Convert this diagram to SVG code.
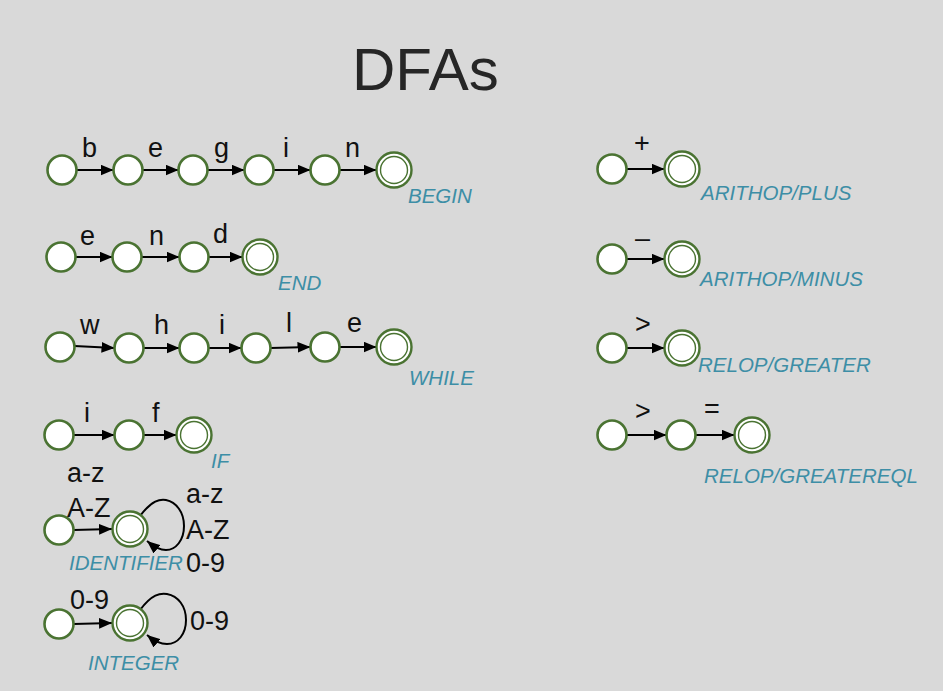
<svg xmlns="http://www.w3.org/2000/svg" width="943" height="691" viewBox="0 0 943 691">
<style>
.s{fill:#fff;stroke:#4a7332;stroke-width:2.6}
.fo{fill:#fff;stroke:#4a7332;stroke-width:2.4}
.fi{fill:#fff;stroke:#4a7332;stroke-width:1.4}
.e{stroke:#000;stroke-width:2;fill:none;marker-end:url(#ah)}
.l{font-family:"Liberation Sans",Arial,sans-serif;font-size:27px;fill:#111}
.n{font-family:"Liberation Sans",Arial,sans-serif;font-size:20.5px;font-style:italic;fill:#3d8ea6}
.t{font-family:"Liberation Sans",Arial,sans-serif;font-size:60px;fill:#262626}
</style>
<defs>
<marker id="ah" markerUnits="userSpaceOnUse" markerWidth="13" markerHeight="11" refX="12" refY="5" orient="auto" viewBox="0 0 12 10">
<path d="M0,0 L12,5 L0,10 Z" fill="#000"/>
</marker>
<g id="st"><circle r="14.5" class="s"/></g>
<g id="fs"><circle r="17.5" class="fo"/><circle r="13.5" class="fi"/></g>
</defs>
<rect width="943" height="691" fill="#d9d9d9"/>
<text class="t" x="352" y="90">DFAs</text>

<g id="connectors">
<line class="e" x1="76.5" y1="170" x2="113.5" y2="170"/>
<line class="e" x1="142.5" y1="170" x2="178.5" y2="170"/>
<line class="e" x1="207.5" y1="170" x2="244.5" y2="170"/>
<line class="e" x1="273.5" y1="170" x2="310.5" y2="170"/>
<line class="e" x1="339.5" y1="170" x2="376.5" y2="170"/>

<line class="e" x1="75.5" y1="257" x2="112.5" y2="257"/>
<line class="e" x1="141.5" y1="257" x2="179.5" y2="257"/>
<line class="e" x1="208.5" y1="257" x2="242.5" y2="257"/>

<line class="e" x1="74.5" y1="346" x2="114.5" y2="348"/>
<line class="e" x1="143.5" y1="348" x2="179.5" y2="348"/>
<line class="e" x1="208.5" y1="348" x2="241.5" y2="348"/>
<line class="e" x1="270.5" y1="348" x2="310.5" y2="347"/>
<line class="e" x1="339.5" y1="347" x2="376.5" y2="347"/>

<line class="e" x1="73.5" y1="435" x2="114.5" y2="435"/>
<line class="e" x1="143.5" y1="435" x2="176.5" y2="435"/>

<line class="e" x1="73.5" y1="530" x2="112" y2="529"/>
<path class="e" d="M140,516 C152,500 160,499 166,500 C176,502 184,512 184,526 C184,540 176,550 166,550 C159,550 153,546 147,541"/>

<line class="e" x1="73.5" y1="624" x2="112" y2="623"/>
<path class="e" d="M140,610 C152,594 160,593 167,594 C178,596 186,606 186,620 C186,634 178,644 167,644 C160,644 153,640 147,635"/>

<line class="e" x1="626.5" y1="169" x2="664.5" y2="169"/>
<line class="e" x1="626.5" y1="259" x2="664.5" y2="259"/>
<line class="e" x1="626.5" y1="348" x2="664.5" y2="348"/>
<line class="e" x1="626.5" y1="435" x2="666.5" y2="435"/>
<line class="e" x1="695.5" y1="435" x2="734.5" y2="435"/>
</g>

<g id="begin">
<use href="#st" x="62" y="170"/><use href="#st" x="128" y="170"/><use href="#st" x="193" y="170"/><use href="#st" x="259" y="170"/><use href="#st" x="325" y="170"/><use href="#fs" x="394" y="170"/>
<text class="l" x="82" y="157">b</text><text class="l" x="148" y="157">e</text><text class="l" x="214" y="157">g</text><text class="l" x="283" y="157">i</text><text class="l" x="345" y="157">n</text>
<text class="n" x="408" y="203">BEGIN</text>
</g>
<g id="end">
<use href="#st" x="61" y="257"/><use href="#st" x="127" y="257"/><use href="#st" x="194" y="257"/><use href="#fs" x="260" y="257"/>
<text class="l" x="80" y="245">e</text><text class="l" x="149" y="245">n</text><text class="l" x="213" y="243">d</text>
<text class="n" x="278" y="290">END</text>
</g>
<g id="while">
<use href="#st" x="60" y="347"/><use href="#st" x="129" y="348"/><use href="#st" x="194" y="348"/><use href="#st" x="256" y="348"/><use href="#st" x="325" y="347"/><use href="#fs" x="394" y="347"/>
<text class="l" x="80" y="334">w</text><text class="l" x="154" y="334">h</text><text class="l" x="219" y="334">i</text><text class="l" x="286" y="332">l</text><text class="l" x="347" y="332">e</text>
<text class="n" x="409" y="385">WHILE</text>
</g>
<g id="if">
<use href="#st" x="59" y="435"/><use href="#st" x="129" y="435"/><use href="#fs" x="194" y="435"/>
<text class="l" x="84" y="422">i</text><text class="l" x="152" y="422">f</text>
<text class="n" x="211" y="468">IF</text>
</g>
<g id="identifier">
<use href="#st" x="59" y="530"/><use href="#fs" x="130" y="529"/>
<text class="l" x="67" y="482">a-z</text><text class="l" x="67" y="517">A-Z</text>
<text class="l" x="186" y="503">a-z</text><text class="l" x="186" y="539">A-Z</text><text class="l" x="186" y="572">0-9</text>
<text class="n" x="69" y="570">IDENTIFIER</text>
</g>
<g id="integer">
<use href="#st" x="59" y="624"/><use href="#fs" x="130" y="623"/>
<text class="l" x="70" y="609">0-9</text><text class="l" x="190" y="630">0-9</text>
<text class="n" x="88" y="670">INTEGER</text>
</g>
<g id="plus">
<use href="#st" x="612" y="169"/><use href="#fs" x="682" y="169"/>
<text class="l" x="634" y="152">+</text>
<text class="n" x="701" y="200">ARITHOP/PLUS</text>
</g>
<g id="minus">
<use href="#st" x="612" y="259"/><use href="#fs" x="682" y="259"/>
<text class="l" x="635" y="247">–</text>
<text class="n" x="700" y="286">ARITHOP/MINUS</text>
</g>
<g id="greater">
<use href="#st" x="612" y="348"/><use href="#fs" x="682" y="348"/>
<text class="l" x="635" y="333">&gt;</text>
<text class="n" x="698" y="372">RELOP/GREATER</text>
</g>
<g id="greatereql">
<use href="#st" x="612" y="435"/><use href="#fs" x="752" y="435"/><use href="#st" x="681" y="435"/>
<text class="l" x="635" y="420">&gt;</text><text class="l" x="704" y="418">=</text>
<text class="n" x="704" y="483">RELOP/GREATEREQL</text>
</g>
</svg>
